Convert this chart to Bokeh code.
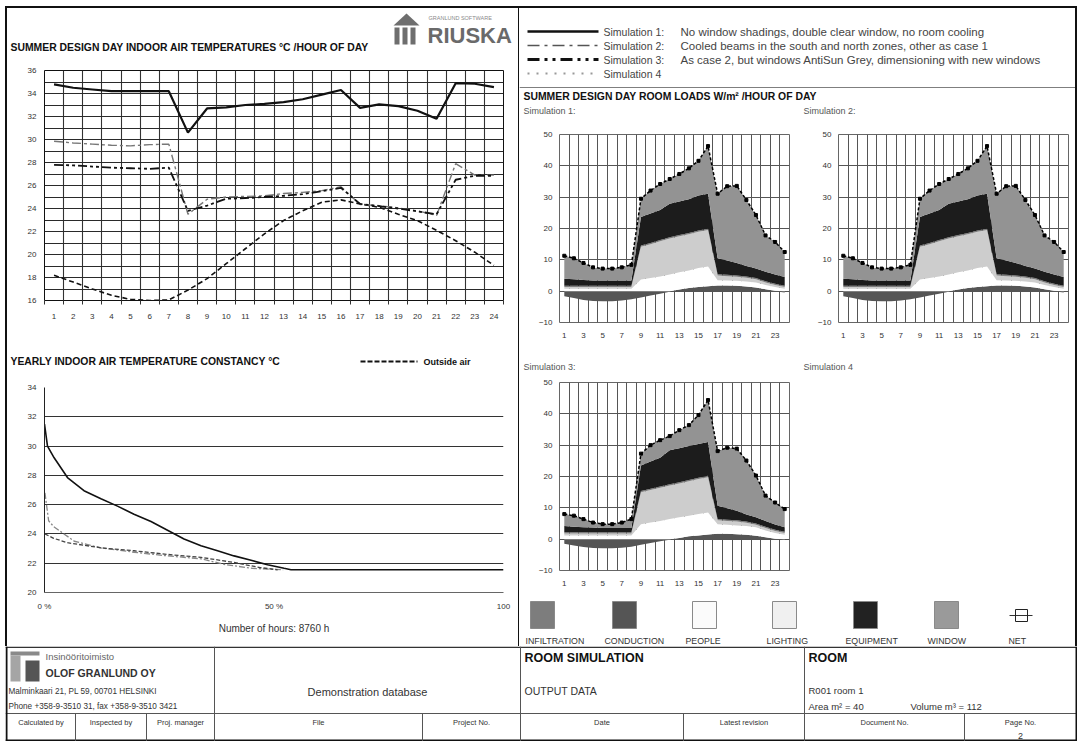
import numpy as np
from bokeh.plotting import figure
from bokeh.layouts import column, row
from bokeh.models import Range1d, FixedTicker, Spacer, ColumnDataSource
from bokeh.core.properties import value
from bokeh.embed import file_html
from bokeh.resources import INLINE

FONT = "Liberation Sans"

# ---------------- data ----------------
HOURS = list(range(1, 25))

# Summer design day indoor air temperatures (deg C) by hour
T_SIM1 = [34.8, 34.5, 34.35, 34.2, 34.2, 34.2, 34.2, 30.6, 32.7, 32.8, 33.0, 33.1,
          33.25, 33.5, 33.9, 34.3, 32.75, 33.05, 32.9, 32.5, 31.8, 34.9, 34.85, 34.55]
T_SIM2 = [29.85, 29.7, 29.6, 29.5, 29.45, 29.55, 29.6, 23.5, 24.8, 25.0, 25.05, 25.1,
          25.3, 25.4, 25.55, 25.9, 24.35, 24.25, 24.05, 23.8, 23.4, 27.9, 26.9, 26.9]
T_SIM3 = [27.8, 27.75, 27.65, 27.55, 27.5, 27.45, 27.55, 23.8, 24.25, 24.85, 24.9, 25.0,
          25.1, 25.25, 25.5, 25.8, 24.4, 24.2, 24.0, 23.75, 23.5, 26.5, 26.85, 26.85]
T_OUTSIDE = [18.2, 17.6, 17.0, 16.45, 16.1, 16.0, 16.05, 16.9, 17.9, 19.2, 20.5, 21.8,
             22.95, 23.8, 24.55, 24.75, 24.4, 24.1, 23.5, 22.95, 22.1, 21.2, 20.2, 19.05]

# Yearly indoor air temperature constancy (percent of 8760 h, deg C)
Y_PCT_SIM1 = [0, 0.65, 2.1, 5.0, 8.6, 12.3, 15.9, 19.5, 23.2, 26.8, 30.4, 34.1, 37.7,
              41.3, 45.0, 48.6, 52.2, 53.7, 100]
Y_T_SIM1 = [31.5, 30.0, 29.2, 27.85, 26.95, 26.4, 25.9, 25.35, 24.85, 24.25, 23.65, 23.2,
            22.85, 22.5, 22.2, 21.9, 21.65, 21.55, 21.55]
Y_PCT_SIM2 = [0.1, 0.9, 2.0, 6.5, 12.3, 19.5, 26.8, 34.1, 39.5, 45.3, 52.0]
Y_T_SIM2 = [26.8, 24.9, 24.5, 23.5, 23.05, 22.75, 22.5, 22.3, 21.9, 21.65, 21.55]
Y_PCT_SIM3 = [0.1, 2.0, 5.0, 12.3, 19.5, 26.8, 34.1, 41.3, 47.0, 50.8]
Y_T_SIM3 = [24.0, 23.7, 23.4, 23.05, 22.85, 22.6, 22.4, 22.05, 21.7, 21.55]

# Summer design day room loads (W/m2) by hour
LOAD_NAMES = ["INFILTRATION", "CONDUCTION", "PEOPLE", "LIGHTING", "EQUIPMENT", "WINDOW", "NET"]

SIM1_CONDUCTION = [-1.6, -2.2, -2.8, -3.1, -3.2, -3.2, -3.0, -2.6, -2.0, -1.4, -0.8, -0.2,
                   0.5, 1.0, 1.3, 1.6, 1.8, 1.8, 1.7, 1.5, 1.2, 0.6, 0.1, -0.4]
SIM1_PEOPLE = [0.8, 0.8, 0.8, 0.8, 0.8, 0.8, 0.8, 0.8, 3.7, 4.2, 4.7, 5.3,
               5.5, 5.6, 6.1, 6.3, 1.7, 1.6, 1.6, 1.6, 1.6, 1.4, 1.2, 0.8]
SIM1_LIGHTING = [0.5, 0.5, 0.5, 0.5, 0.5, 0.5, 0.5, 0.5, 10.5, 10.8, 11.2, 11.5,
                 11.5, 11.6, 11.6, 11.6, 1.5, 1.4, 1.3, 1.2, 1.0, 0.8, 0.7, 0.5]
SIM1_INFILTRATION = [0.4] * 24
SIM1_EQUIPMENT = [2.3, 2.1, 1.9, 1.7, 1.7, 1.7, 1.7, 1.7, 9.1, 9.4, 9.6, 10.7,
                  10.7, 10.7, 11.1, 11.2, 5.1, 4.6, 4.0, 3.3, 3.0, 3.0, 2.9, 2.8]
SIM1_WINDOW = [7.3, 6.7, 5.4, 4.1, 3.8, 3.8, 4.2, 5.0, 5.8, 7.3, 8.3, 7.9,
               8.8, 9.9, 11.1, 15.2, 20.6, 23.7, 24.6, 21.1, 17.1, 11.6, 10.4, 8.0]
SIM1_NET = [11.3, 10.5, 9.0, 7.6, 7.2, 7.2, 7.6, 8.4, 29.5, 32.1, 34.2, 35.8,
            37.4, 39.2, 41.6, 46.3, 31.1, 33.5, 33.6, 29.1, 24.3, 17.8, 15.7, 12.5]

SIM2_CONDUCTION = [-1.6, -2.2, -2.8, -3.1, -3.2, -3.2, -3.0, -2.6, -2.0, -1.4, -0.8, -0.2,
                   0.5, 1.0, 1.3, 1.6, 1.8, 1.8, 1.7, 1.5, 1.2, 0.6, 0.1, -0.4]
SIM2_PEOPLE = [0.8, 0.8, 0.8, 0.8, 0.8, 0.8, 0.8, 0.8, 3.7, 4.2, 4.7, 5.3,
               5.5, 5.6, 6.1, 6.3, 1.7, 1.6, 1.6, 1.6, 1.6, 1.4, 1.2, 0.8]
SIM2_LIGHTING = [0.5, 0.5, 0.5, 0.5, 0.5, 0.5, 0.5, 0.5, 10.5, 10.8, 11.2, 11.5,
                 11.5, 11.6, 11.6, 11.6, 1.5, 1.4, 1.3, 1.2, 1.0, 0.8, 0.7, 0.5]
SIM2_INFILTRATION = [0.4] * 24
SIM2_EQUIPMENT = [2.3, 2.1, 1.9, 1.7, 1.7, 1.7, 1.7, 1.7, 9.1, 9.4, 9.6, 10.7,
                  10.7, 10.7, 11.1, 11.2, 5.1, 4.6, 4.0, 3.3, 3.0, 3.0, 2.9, 2.8]
SIM2_WINDOW = [7.3, 6.7, 5.4, 4.1, 3.8, 3.8, 4.2, 5.0, 5.8, 7.3, 8.3, 7.9,
               8.8, 9.9, 11.1, 15.2, 20.6, 23.7, 24.6, 21.1, 17.1, 11.6, 10.4, 8.0]
SIM2_NET = [11.3, 10.5, 9.0, 7.6, 7.2, 7.2, 7.6, 8.4, 29.5, 32.1, 34.2, 35.8,
            37.4, 39.2, 41.6, 46.3, 31.1, 33.5, 33.6, 29.1, 24.3, 17.8, 15.7, 12.5]

SIM3_CONDUCTION = [-1.5, -2.0, -2.5, -2.8, -2.9, -2.9, -2.7, -2.4, -1.8, -1.2, -0.7, -0.2,
                   0.4, 0.9, 1.2, 1.5, 1.7, 1.7, 1.6, 1.4, 1.1, 0.6, 0.1, -0.3]
SIM3_PEOPLE = [1.2, 1.2, 1.2, 1.2, 1.2, 1.2, 1.2, 1.2, 4.8, 5.3, 5.8, 6.4,
               6.6, 6.6, 6.8, 7.0, 3.1, 2.9, 2.8, 2.8, 2.7, 2.2, 1.9, 1.4]
SIM3_LIGHTING = [0.6, 0.6, 0.6, 0.6, 0.6, 0.6, 0.6, 0.6, 10.2, 10.4, 10.6, 10.7,
                 10.8, 11.0, 11.2, 11.3, 1.2, 1.2, 1.2, 1.0, 0.8, 0.8, 0.6, 0.6]
SIM3_INFILTRATION = [0.4] * 24
SIM3_EQUIPMENT = [2.0, 1.8, 1.6, 1.5, 1.4, 1.4, 1.4, 1.4, 8.1, 8.7, 9.2, 10.9,
                  10.8, 10.8, 10.8, 10.8, 4.3, 3.7, 3.1, 2.3, 2.0, 1.8, 1.7, 1.4]
SIM3_WINDOW = [3.8, 3.5, 2.6, 1.6, 1.2, 1.2, 1.7, 2.8, 3.8, 5.2, 5.6, 4.5,
               5.8, 6.7, 9.2, 13.4, 17.4, 19.3, 19.8, 17.2, 13.3, 8.1, 7.0, 5.8]
SIM3_NET = [8.0, 7.5, 6.4, 5.3, 4.8, 4.8, 5.3, 6.4, 27.3, 30.0, 31.6, 32.9,
            34.8, 36.4, 39.6, 44.4, 28.1, 29.2, 28.9, 25.1, 20.3, 13.9, 11.7, 9.6]

# colours
C_INFIL = "#7d7d7d"
C_COND = "#555555"
C_PEOPLE = "#ffffff"
C_LIGHT = "#cdcdcd"
C_EQUIP = "#1c1c1c"
C_WINDOW = "#939393"
LEGEND_FILLS = ["#7d7d7d", "#555555", "#fbfbfb", "#f0f0f0", "#222222", "#9a9a9a"]

SIM_NAMES = ["Simulation 1:", "Simulation 2:", "Simulation 3:", "Simulation 4"]
SIM_TEXTS = ["No window shadings, double clear window, no room cooling",
             "Cooled beams in the south and north zones, other as case 1",
             "As case 2, but windows AntiSun Grey, dimensioning with new windows",
             ""]


# ---------------- helpers ----------------
def canvas(w, h):
    p = figure(width=w, height=h, x_range=Range1d(0, w), y_range=Range1d(h, 0),
               x_axis_location=None, y_axis_location=None, toolbar_location=None,
               output_backend="svg", min_border=0, frame_align=False)
    p.min_border_left = 0
    p.min_border_right = 0
    p.min_border_top = 0
    p.min_border_bottom = 0
    p.grid.grid_line_color = None
    p.outline_line_color = None
    p.background_fill_color = "white"
    p.border_fill_color = "white"
    return p


def txt(p, x, y, s, size="9px", bold=False, color="#222", align="left"):
    p.text(x=[x], y=[y], text=[s], text_font=value(FONT), text_font_size=size,
           text_font_style="bold" if bold else "normal", text_color=color,
           text_align=align, text_baseline="middle")


def seg(p, x0, y0, x1, y1, color="#000", width=1, dash="solid"):
    p.segment(x0=[x0], y0=[y0], x1=[x1], y1=[y1], line_color=color,
              line_width=width, line_dash=dash)


def chart_fig(w, h, l, r, t, b, xr, yr):
    p = figure(width=w, height=h, x_range=xr, y_range=yr, toolbar_location=None,
               output_backend="svg", min_border_left=l, min_border_right=r,
               min_border_top=t, min_border_bottom=b, frame_align=False)
    p.background_fill_color = "white"
    p.border_fill_color = "white"
    for ax in p.axis:
        ax.major_label_text_font = FONT
        ax.major_label_text_font_size = "8px"
        ax.major_label_text_color = "#333"
        ax.axis_line_color = None
        ax.major_tick_line_color = None
        ax.minor_tick_line_color = None
        ax.major_tick_out = 0
        ax.major_tick_in = 0
    return p


BOUNDS = [h - 0.5 for h in range(1, 26)]

# ---------------- left: temperature chart ----------------
hA = canvas(511, 55)
txt(hA, 3, 39, "SUMMER DESIGN DAY INDOOR AIR TEMPERATURES °C /HOUR OF DAY", "10.4px", True, "#111")
hA.patch(x=[386, 399, 412], y=[17, 5, 17], fill_color="#6e6e6e", line_color=None)
hA.quad(left=[387, 395, 403], right=[392, 400, 408], top=[19, 19, 19], bottom=[36, 36, 36],
        fill_color="#6e6e6e", line_color=None)
txt(hA, 421, 9, "GRANLUND SOFTWARE", "5.5px", False, "#8a8a8a")
txt(hA, 420, 27, "RIUSKA", "22px", True, "#6a6a6a")

pA = chart_fig(511, 275, 37, 15, 7, 38, Range1d(0.5, 24.5), Range1d(16, 36))
pA.outline_line_color = "#111"
pA.xaxis.ticker = FixedTicker(ticks=HOURS, minor_ticks=BOUNDS)
pA.xaxis.minor_tick_line_color = "#333"
pA.xaxis.minor_tick_out = 4
pA.xaxis.minor_tick_in = 0
pA.xaxis.major_label_standoff = 9
pA.yaxis.ticker = FixedTicker(ticks=list(range(16, 37, 2)))
pA.yaxis.major_label_standoff = 8
pA.xgrid.ticker = FixedTicker(ticks=BOUNDS)
pA.ygrid.ticker = FixedTicker(ticks=list(range(16, 37)))
pA.xgrid.grid_line_color = "#333"
pA.ygrid.grid_line_color = "#2a2a2a"
pA.xgrid.grid_line_width = 1.1
pA.ygrid.grid_line_width = 1.2
pA.line(HOURS, T_OUTSIDE, line_color="#111", line_width=1.6, line_dash="5 3")
pA.line(HOURS, T_SIM2, line_color="#777", line_width=1.4, line_dash="9 3 3 3")
pA.line(HOURS, T_SIM3, line_color="#111", line_width=1.8, line_dash="9 3 3 3 3 3")
pA.line(HOURS, T_SIM1, line_color="#111", line_width=2.2)

# ---------------- left: yearly chart ----------------
hB = canvas(511, 42)
txt(hB, 3, 23, "YEARLY INDOOR AIR TEMPERATURE CONSTANCY °C", "10.4px", True, "#111")
seg(hB, 353, 23, 410, 23, "#111", 2, "5 2")
txt(hB, 416, 23, "Outside air", "9px", True, "#111")

pB = chart_fig(511, 266, 37, 15, 7, 54, Range1d(0, 100), Range1d(20, 34))
pB.outline_line_color = None
pB.xaxis.ticker = FixedTicker(ticks=[0, 50, 100])
pB.xaxis.major_label_overrides = {0: "0 %", 50: "50 %", 100: "100"}
pB.xaxis.major_label_standoff = 9
pB.xaxis.axis_line_color = "#666"
pB.xaxis.axis_label = "Number of hours: 8760 h"
pB.xaxis.axis_label_text_font = FONT
pB.xaxis.axis_label_text_font_size = "10px"
pB.xaxis.axis_label_text_font_style = "normal"
pB.xaxis.axis_label_text_color = "#333"
pB.xaxis.axis_label_standoff = 9
pB.yaxis.ticker = FixedTicker(ticks=list(range(20, 35, 2)))
pB.yaxis.axis_line_color = "#222"
pB.yaxis.major_label_standoff = 8
pB.xgrid.grid_line_color = None
pB.ygrid.ticker = FixedTicker(ticks=list(range(22, 35, 2)))
pB.ygrid.grid_line_color = "#333"
pB.ygrid.grid_line_width = 1.2
pB.line(Y_PCT_SIM2, Y_T_SIM2, line_color="#888", line_width=1.3, line_dash="6 2 2 2")
pB.line(Y_PCT_SIM3, Y_T_SIM3, line_color="#444", line_width=1.3, line_dash="4 2")
pB.line(Y_PCT_SIM1, Y_T_SIM1, line_color="#111", line_width=1.6)

left_col = column(hA, pA, hB, pB)

# ---------------- right: legend ----------------
hC = canvas(556, 80)
ys = [23, 37, 51, 65]
seg(hC, 8, ys[0], 79, ys[0], "#111", 2.5)
seg(hC, 8, ys[1], 79, ys[1], "#555", 1.5, "12 5 3 5")
seg(hC, 8, ys[2], 79, ys[2], "#111", 3, "12 5 3 5 3 5")
seg(hC, 8, ys[3], 79, ys[3], "#999", 2, "2 7")
for i in range(4):
    txt(hC, 84, ys[i], SIM_NAMES[i], "10.5px", False, "#444")
    txt(hC, 161, ys[i], SIM_TEXTS[i], "11.5px", False, "#444")
seg(hC, 0, 79.5, 556, 79.5, "#555", 1.5)

hD = canvas(556, 37)
txt(hD, 4, 8, "SUMMER DESIGN DAY ROOM LOADS W/m² /HOUR OF DAY", "10.4px", True, "#111")
txt(hD, 4, 22, "Simulation 1:", "9px", False, "#555")
txt(hD, 284, 22, "Simulation 2:", "9px", False, "#555")


def load_chart(w, h, l, r, t, b, cond, people, lighting, infil, equip, window, net):
    p = chart_fig(w, h, l, r, t, b, Range1d(0.5, 24.5), Range1d(-10, 50))
    p.outline_line_color = "#666"
    p.xaxis.ticker = FixedTicker(ticks=HOURS[::2])
    p.xaxis.major_label_standoff = 10
    p.yaxis.ticker = FixedTicker(ticks=list(range(-10, 51, 10)))
    p.yaxis.major_label_standoff = 7
    p.xgrid.ticker = FixedTicker(ticks=BOUNDS)
    p.grid.grid_line_color = "#555"
    p.grid.grid_line_width = 1
    c = np.array(cond, dtype=float)
    src = ColumnDataSource(dict(hour=HOURS, cpos=np.clip(c, 0, None), cneg=np.clip(c, None, 0),
                                people=people, lighting=lighting, infil=infil,
                                equip=equip, window=window, net=net))
    p.varea(x="hour", y1=0, y2="cneg", source=src, fill_color=C_COND)
    p.varea_stack(stackers=["cpos", "people", "lighting", "infil", "equip", "window"],
                  x="hour", color=[C_COND, C_PEOPLE, C_LIGHT, C_INFIL, C_EQUIP, C_WINDOW],
                  source=src)
    p.line(x="hour", y="net", source=src, line_color="#000", line_width=1.5, line_dash="3 2")
    p.scatter(x="hour", y="net", source=src, marker="square", size=3, color="#000")
    return p


pS1 = load_chart(279, 227, 40, 9, 9, 30, SIM1_CONDUCTION, SIM1_PEOPLE, SIM1_LIGHTING,
                 SIM1_INFILTRATION, SIM1_EQUIPMENT, SIM1_WINDOW, SIM1_NET)
pS2 = load_chart(277, 227, 40, 7, 9, 30, SIM2_CONDUCTION, SIM2_PEOPLE, SIM2_LIGHTING,
                 SIM2_INFILTRATION, SIM2_EQUIPMENT, SIM2_WINDOW, SIM2_NET)

hE = canvas(556, 23)
txt(hE, 4, 14, "Simulation 3:", "9px", False, "#555")
txt(hE, 284, 14, "Simulation 4", "9px", False, "#555")

pS3 = load_chart(279, 219, 40, 9, 7, 24, SIM3_CONDUCTION, SIM3_PEOPLE, SIM3_LIGHTING,
                 SIM3_INFILTRATION, SIM3_EQUIPMENT, SIM3_WINDOW, SIM3_NET)
blank = canvas(277, 219)

hF = canvas(556, 52)
box_x = [11, 93, 173, 253, 334, 415]
lab_x = [6, 85, 166, 247, 326, 408, 489]
for i in range(6):
    hF.quad(left=[box_x[i]], right=[box_x[i] + 24], top=[7], bottom=[34],
            fill_color=LEGEND_FILLS[i], line_color="#8a8a8a", line_width=1)
seg(hF, 490, 21, 513, 21, "#333", 1)
hF.quad(left=[496], right=[508], top=[15], bottom=[27], fill_color=None, line_color="#222", line_width=1)
for i in range(7):
    txt(hF, lab_x[i], 46, LOAD_NAMES[i], "8.8px", False, "#333")

right_col = column(hC, hD, row(pS1, pS2), hE, row(pS3, blank), hF)

# ---------------- bottom table ----------------
T = canvas(1072, 95)
seg(T, 0, 0.75, 1072, 0.75, "#333", 1.5)
seg(T, 0, 67, 1072, 67, "#555", 1)
seg(T, 0, 94, 1072, 94, "#111", 2)
seg(T, 1, 0, 1, 95, "#111", 2)
seg(T, 1071, 0, 1071, 95, "#111", 2)
for xv in [209, 515, 799]:
    seg(T, xv, 0, xv, 95, "#555", 1)
for xv in [70, 141, 417, 678, 959]:
    seg(T, xv, 67, xv, 95, "#555", 1)
T.quad(left=[5], right=[34], top=[5], bottom=[9], fill_color="#8a8a8a", line_color=None)
T.quad(left=[5], right=[15], top=[9], bottom=[35], fill_color="#a5a5a5", line_color=None)
T.quad(left=[20], right=[34], top=[14], bottom=[35], fill_color="#555555", line_color=None)
txt(T, 40, 10, "Insinööritoimisto", "9.5px", False, "#666")
txt(T, 40, 26, "OLOF GRANLUND OY", "10.5px", True, "#333")
txt(T, 3, 45, "Malminkaari 21, PL 59, 00701 HELSINKI", "8.2px", False, "#333")
txt(T, 3, 60, "Phone +358-9-3510 31, fax +358-9-3510 3421", "8.2px", False, "#333")
txt(T, 362, 45, "Demonstration database", "11px", False, "#333", "center")
txt(T, 519, 11, "ROOM SIMULATION", "12.5px", True, "#111")
txt(T, 519, 44, "OUTPUT DATA", "10.5px", False, "#333")
txt(T, 803, 11, "ROOM", "12.5px", True, "#111")
txt(T, 803, 44, "R001  room 1", "9.5px", False, "#333")
txt(T, 803, 60, "Area m² = 40", "9.5px", False, "#333")
txt(T, 905, 60, "Volume m³ =   112", "9.5px", False, "#333")
cells = [(1, 70, "Calculated by"), (70, 141, "Inspected by"), (141, 209, "Proj. manager"),
         (209, 417, "File"), (417, 515, "Project No."), (515, 678, "Date"),
         (678, 799, "Latest revision"), (799, 959, "Document No."), (959, 1071, "Page No.")]
for a, b, s in cells:
    txt(T, (a + b) / 2, 76, s, "7.5px", False, "#333", "center")
txt(T, 1015, 89, "2", "9px", False, "#333", "center")

# ---------------- assemble ----------------
def bar(w, h):
    return Spacer(width=w, height=h, styles={"background-color": "#111"})

main = row(bar(2, 638), left_col, bar(1, 638), right_col, bar(2, 638))
page = column(bar(1072, 2), main, T, margin=(6, 0, 0, 5))

open("out.html", "w").write(file_html(page, INLINE))
